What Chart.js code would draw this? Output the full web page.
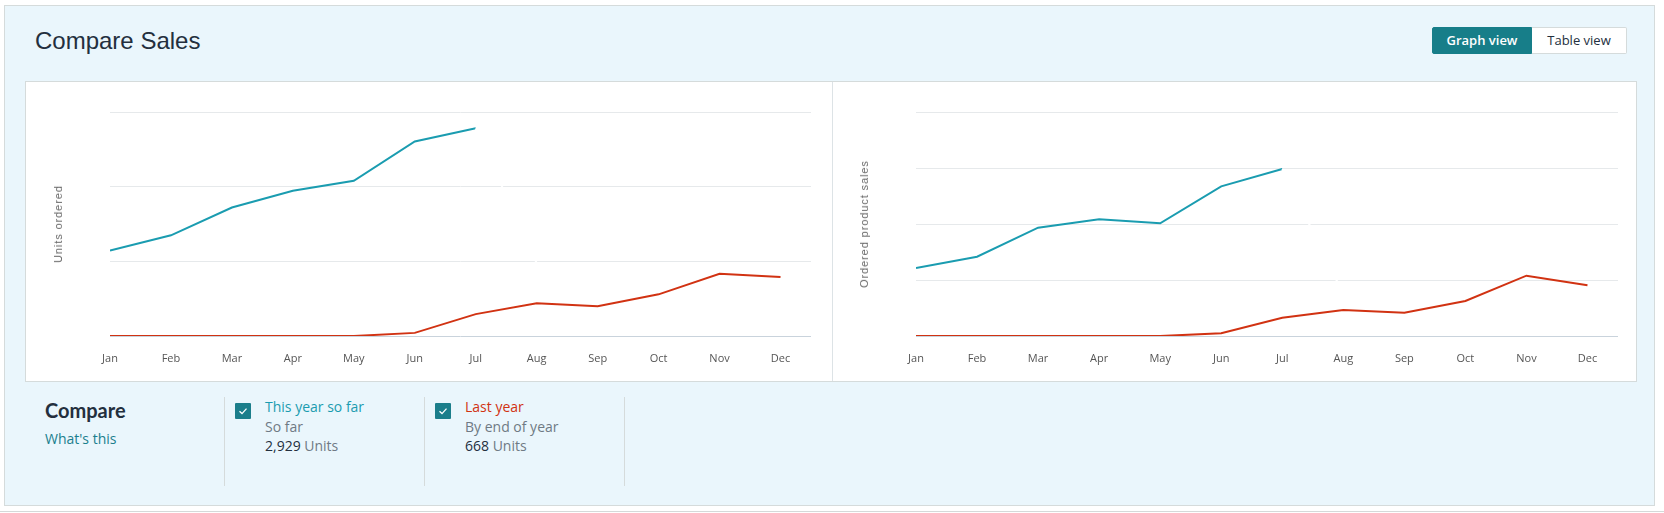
<!DOCTYPE html>
<html>
<head>
<meta charset="utf-8">
<script src="https://cdn.jsdelivr.net/npm/chart.js@4.4.1/dist/chart.umd.min.js"></script>
<style>
  html, body { margin: 0; padding: 0; width: 1664px; height: 513px; background: #fff; overflow: hidden; }
  body { position: relative; font-family: "Liberation Sans", Arial, sans-serif; }
  .abs { position: absolute; }
  #outer { left: 4px; top: 5px; width: 1651px; height: 501px; box-sizing: border-box;
           border: 1px solid #d5dbdb; background: #eaf6fc; }
  #pageLine { left: 0; top: 511px; width: 1664px; height: 1px; background: #d5d9d9; }
  #title { left: 35px; top: 27px; font-size: 24px; line-height: 28px; color: #232f3e; }
  .btn { top: 27px; height: 27px; box-sizing: border-box; font-family: "Open Sans", sans-serif; font-size: 13px;
         line-height: 25px; text-align: center; }
  #btnGraph { left: 1432px; width: 100px; background: #177e89; color: #fff; font-weight: 600; border: 1px solid #177e89; border-radius: 2px 0 0 2px; }
  #btnTable { left: 1532px; width: 95px; background: #fff; color: #232f3e; border: 1px solid #d5dbdb; border-left: none; border-radius: 0 2px 2px 0; }
  #panel { left: 25px; top: 81px; width: 1612px; height: 301px; box-sizing: border-box; border: 1px solid #d5dbdb; background: #fff; }
  #midLine { left: 832px; top: 82px; width: 1px; height: 299px; background: #dde3e6; }
  .chartBox { top: 82px; height: 298px; }
  #box1 { left: 26px; width: 805px; }
  #box2 { left: 833px; width: 803px; }
  .yTitle { font-family: "Liberation Sans", sans-serif; font-size: 11px; letter-spacing: 0.9px; color: #666; white-space: nowrap;
            transform: translate(-50%, -50%) rotate(-90deg); }
  #yt1 { left: 58px; top: 224px; }
  #yt2 { left: 864px; top: 224px; }
  .leg { font-family: "Open Sans", sans-serif; font-size: 14px; line-height: 19.5px; white-space: nowrap; }
  #cmp { left: 45px; top: 398px; font-family: Lato, sans-serif; font-weight: 700; font-size: 20px; line-height: 24px; color: #232f3e; }
  #what { left: 45px; top: 429px; color: #1a7f8e; }
  .vline { top: 397px; width: 1px; height: 89px; background: #d5dbdb; }
  .cb { top: 403px; width: 16px; height: 16px; background: #1b7e8b; border-radius: 1px; }
  .cb svg { display: block; }
  .grey { color: #6f7a84; }
  .dark { color: #232f3e; }
</style>
</head>
<body>
<div id="outer" class="abs"></div>
<div id="pageLine" class="abs"></div>
<div id="title" class="abs">Compare Sales</div>
<div id="btnGraph" class="abs btn">Graph view</div>
<div id="btnTable" class="abs btn">Table view</div>

<div id="panel" class="abs"></div>
<div id="midLine" class="abs"></div>
<div id="box1" class="abs chartBox"><canvas id="unitsChart"></canvas></div>
<div id="box2" class="abs chartBox"><canvas id="salesChart"></canvas></div>
<div id="yt1" class="abs yTitle">Units ordered</div>
<div id="yt2" class="abs yTitle">Ordered product sales</div>

<div id="cmp" class="abs">Compare</div>
<div id="what" class="abs leg">What's this</div>
<div class="abs vline" style="left:224px"></div>
<div class="abs cb" style="left:235px"><svg width="16" height="16" viewBox="0 0 16 16"><path d="M4.5 8.3 L7 10.6 L11.5 5.6" fill="none" stroke="#fff" stroke-width="1.3"/></svg></div>
<div class="abs leg" style="left:265px; top:397px">
  <div style="color:#1a9cb0">This year so far</div>
  <div class="grey">So far</div>
  <div><span class="dark">2,929</span> <span class="grey">Units</span></div>
</div>
<div class="abs vline" style="left:424px"></div>
<div class="abs cb" style="left:435px"><svg width="16" height="16" viewBox="0 0 16 16"><path d="M4.5 8.3 L7 10.6 L11.5 5.6" fill="none" stroke="#fff" stroke-width="1.3"/></svg></div>
<div class="abs leg" style="left:465px; top:397px">
  <div style="color:#d13212">Last year</div>
  <div class="grey">By end of year</div>
  <div><span class="dark">668</span> <span class="grey">Units</span></div>
</div>
<div class="abs vline" style="left:624px"></div>

<script>
// month labels on the x axis
const months = ['Jan', 'Feb', 'Mar', 'Apr', 'May', 'Jun', 'Jul', 'Aug', 'Sep', 'Oct', 'Nov', 'Dec'];

// Units ordered (left chart)
const unitsThisYear = [246, 290, 370, 418, 447, 560, 598, null, null, null, null, null];
const unitsLastYear = [0, 0, 0, 0, 0, 9, 63, 94, 86, 120, 179, 170];
const unitsCurrentMonth = [null, null, null, null, null, null, 598, 210, null, null, null, null];
const unitsMax = 645;
const unitsStep = 215;

// Ordered product sales (right chart)
const salesThisYear = [1214, 1416, 1934, 2084, 2012, 2673, 2982, null, null, null, null, null];
const salesLastYear = [0, 0, 0, 0, 0, 48, 327, 464, 416, 625, 1077, 905];
const salesCurrentMonth = [null, null, null, null, null, null, 2982, 750, null, null, null, null];
const salesMax = 4000;
const salesStep = 1000;

const BLUE = '#1a9cb0';
const RED = '#d13212';

const toPoints = arr => arr.map((v, i) => ({ x: i, y: v }));

const lineSet = (label, arr, color) => ({
  label: label,
  data: toPoints(arr),
  borderColor: color,
  backgroundColor: color,
  borderWidth: 2,
  pointRadius: 0,
  tension: 0,
  spanGaps: false
});

const makeChart = (id, thisYear, lastYear, current, max, step, padLeft, padRight) => {
  const ctx = document.getElementById(id).getContext('2d');
  return new Chart(ctx, {
    type: 'line',
    data: {
      datasets: [
        lineSet('Current month', current, '#ffffff'),
        lineSet('Last year', lastYear, RED),
        lineSet('This year so far', thisYear, BLUE)
      ]
    },
    options: {
      responsive: true,
      maintainAspectRatio: false,
      animation: false,
      layout: { padding: { left: padLeft, right: padRight, top: 30, bottom: 0 } },
      plugins: { legend: { display: false }, tooltip: { enabled: false } },
      scales: {
        x: {
          type: 'linear',
          min: 0,
          max: 11.5,
          grid: { display: false },
          border: { display: false },
          afterFit: scale => { scale.height = 44; },
          ticks: {
            stepSize: 1,
            includeBounds: false,
            autoSkip: false,
            maxRotation: 0,
            padding: 8,
            color: '#555',
            font: { family: 'Open Sans', size: 11 },
            callback: v => months[v] ?? ''
          }
        },
        y: {
          min: 0,
          max: max,
          border: { display: false },
          afterFit: scale => { scale.width = 0; },
          grid: {
            drawTicks: false,
            lineWidth: 1,
            color: c => (c.tick && c.tick.value === 0) ? '#c9d3dc' : '#e6e9eb'
          },
          ticks: { display: false, stepSize: step }
        }
      }
    }
  });
};

makeChart('unitsChart', unitsThisYear, unitsLastYear, unitsCurrentMonth, unitsMax, unitsStep, 84, 20);
makeChart('salesChart', salesThisYear, salesLastYear, salesCurrentMonth, salesMax, salesStep, 83, 18);
</script>
</body>
</html>
